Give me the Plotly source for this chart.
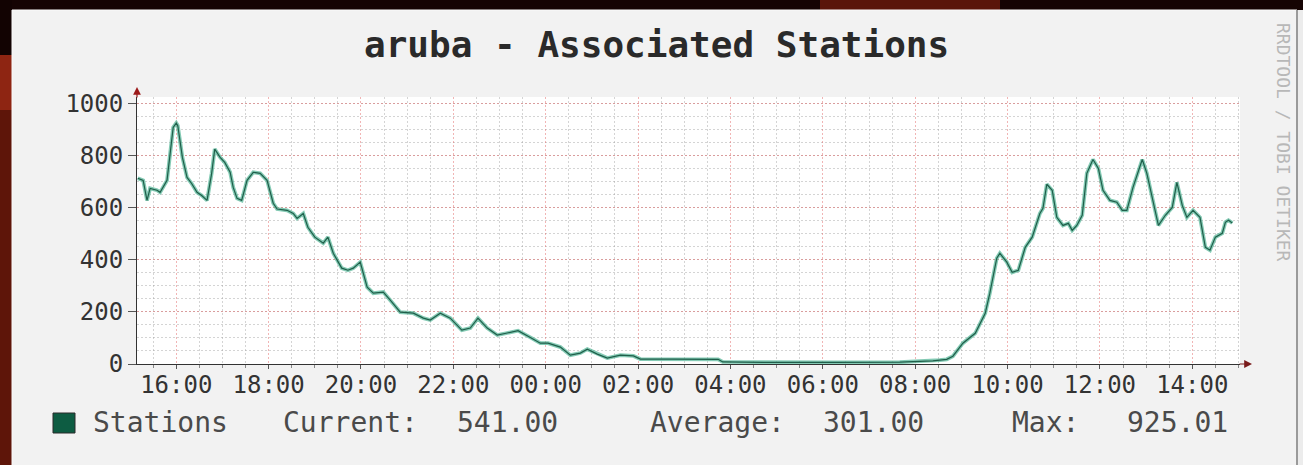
import plotly.graph_objects as go

# ---------------- data ----------------
day1_times = ["15:10", "15:17", "15:22", "15:26", "15:35", "15:39", "15:48", "15:52", "15:56", "16:00",
              "16:02", "16:08", "16:14", "16:20", "16:27", "16:33", "16:40", "16:46", "16:50", "16:57",
              "17:03", "17:10", "17:14", "17:19", "17:25", "17:32", "17:40", "17:49", "17:58", "18:06",
              "18:11", "18:24", "18:32", "18:37", "18:45", "18:51", "19:00", "19:11", "19:17", "19:24",
              "19:35", "19:43", "19:50", "19:59", "20:08", "20:16", "20:29", "20:38", "20:51", "21:08",
              "21:21", "21:30", "21:43", "21:56", "22:11", "22:22", "22:32", "22:44", "22:57", "23:10",
              "23:24", "23:40", "23:53"]
day1_values = [713, 705, 628, 674, 667, 659, 705, 808, 908, 925.01,
               915, 793, 716, 693, 659, 647, 628, 732, 825, 793,
               774, 736, 678, 636, 628, 705, 736, 732, 705, 617,
               595, 590, 578, 559, 578, 525, 487, 464, 487, 425,
               368, 360, 368, 391, 295, 272, 276, 245, 199, 195,
               176, 169, 195, 176, 130, 138, 176, 138, 111, 119,
               128, 102, 80]
day2_times = ["00:03", "00:19", "00:32", "00:45", "00:54", "01:07", "01:20", "01:37", "01:54", "02:03",
              "02:45", "03:30", "03:44", "03:50", "04:48", "06:13", "07:40", "08:23", "08:32", "08:41",
              "08:49", "08:58", "09:02", "09:18", "09:31", "09:37", "09:46", "09:50", "09:59", "10:06",
              "10:14", "10:23", "10:32", "10:42", "10:46", "10:51", "10:58", "11:04", "11:12", "11:19",
              "11:24", "11:30", "11:37", "11:43", "11:51", "11:58", "12:04", "12:13", "12:22", "12:29",
              "12:35", "12:43", "12:55", "13:01", "13:08", "13:16", "13:25", "13:34", "13:40", "13:47",
              "13:53", "14:01", "14:10", "14:17", "14:23", "14:30", "14:39", "14:43", "14:47", "14:52"]
day2_values = [80, 65, 34, 42, 57, 38, 23, 34, 31, 19,
               19, 18, 18, 8, 6, 6, 7, 12, 15, 18,
               30, 65, 80, 118, 195, 272, 406, 425, 391, 352,
               360, 448, 487, 578, 598, 690, 667, 563, 532, 540,
               513, 532, 571, 732, 785, 751, 667, 628, 621, 590,
               590, 678, 785, 732, 640, 532, 571, 601, 697, 609,
               563, 590, 563, 448, 437, 487, 502, 544, 552, 541]
day1_date = "2024-03-11"
day2_date = "2024-03-12"
x_range = ["2024-03-11 15:09", "2024-03-12 15:02"]
y_ticks = [0, 200, 400, 600, 800, 1000]
title_text = "aruba - Associated Stations"
series_name = "Stations"
stat_labels = ["Current:", "Average:", "Max:"]
stat_values = [541.00, 301.00, 925.01]
watermark = "RRDTOOL / TOBI OETIKER"

timestamps = [f"{day1_date} {t}" for t in day1_times] + [f"{day2_date} {t}" for t in day2_times]
stations = day1_values + day2_values

# ---------------- layout helpers ----------------
W, H = 1303, 465
L, R, T, B = 137, 63, 97, 101
PW, PH = W - L - R, H - T - B


def px(x):
    return (x - L) / PW


def py(y):
    return (H - B - y) / PH


MONO = "DejaVu Sans Mono"
TXT = "#4a4a4a"

fig = go.Figure()
fig.add_trace(go.Scatter(x=timestamps, y=stations, mode="lines", showlegend=False, hoverinfo="skip",
                         line=dict(color="rgba(80,180,148,0.7)", width=3.8)))
fig.add_trace(go.Scatter(x=timestamps, y=stations, mode="lines", name=series_name, showlegend=False,
                         line=dict(color="#1f5e4a", width=1.2)))

shapes = [
    dict(type="rect", xref="paper", yref="paper", x0=px(0), x1=px(12), y0=py(0), y1=py(55),
         fillcolor="#120302", line_width=0, layer="below"),
    dict(type="rect", xref="paper", yref="paper", x0=px(0), x1=px(12), y0=py(55), y1=py(110),
         fillcolor="#8e2512", line_width=0, layer="below"),
    dict(type="rect", xref="paper", yref="paper", x0=px(0), x1=px(12), y0=py(110), y1=py(465),
         fillcolor="#5e1509", line_width=0, layer="below"),
    dict(type="rect", xref="paper", yref="paper", x0=px(820), x1=px(1000), y0=py(0), y1=py(10),
         fillcolor="#5a1509", line_width=0, layer="below"),
    dict(type="rect", xref="paper", yref="paper", x0=px(1297), x1=px(1303), y0=py(10), y1=py(465),
         fillcolor="#ececec", line_width=0, layer="below"),
    dict(type="rect", xref="paper", yref="paper", x0=px(12), x1=px(1297), y0=py(10), y1=py(466),
         fillcolor="#f2f2f2", line=dict(color="#fafafa", width=1), layer="below"),
    dict(type="line", xref="paper", yref="paper", x0=px(1297), x1=px(1297), y0=py(10), y1=py(465),
         line=dict(color="#9a9a9a", width=2), layer="below"),
    dict(type="rect", xref="paper", yref="paper", x0=0, x1=1, y0=0, y1=1,
         fillcolor="#ffffff", line_width=0, layer="below"),
    dict(type="rect", xref="paper", yref="paper", x0=px(53), x1=px(75), y0=py(433), y1=py(413),
         fillcolor="#0d5c42", line=dict(color="#2a2a2a", width=1)),
]

annotations = [
    dict(text="", xref="paper", yref="paper", x=0, y=py(87), ax=0, ay=12, showarrow=True,
         arrowhead=2, arrowsize=1.3, arrowwidth=1.2, arrowcolor="#9c1a1a", standoff=0),
    dict(text="", xref="paper", yref="paper", x=px(1252), y=0, ax=-14, ay=0, showarrow=True,
         arrowhead=2, arrowsize=1.3, arrowwidth=1.2, arrowcolor="#7a1a1a", standoff=0),
    dict(text=title_text, xref="paper", yref="paper", x=px(656), y=py(45), xanchor="center",
         yanchor="middle", showarrow=False,
         font=dict(family=MONO, size=36, color="#2a2a2a", weight="bold")),
    dict(text=watermark, xref="paper", yref="paper", x=px(1284), y=py(142), textangle=90,
         xanchor="center", yanchor="middle", showarrow=False, font=dict(family=MONO, size=18, color="#b8b8b8")),
    dict(text=series_name, xref="paper", yref="paper", x=px(91), y=py(422), xanchor="left",
         yanchor="middle", showarrow=False, font=dict(family=MONO, size=28, color=TXT)),
]
label_x = [281, 648, 1010]
value_x = [455, 821, 1125]
for lab, val, lx, vx in zip(stat_labels, stat_values, label_x, value_x):
    annotations.append(dict(text=lab, xref="paper", yref="paper", x=px(lx), y=py(422), xanchor="left",
                            yanchor="middle", showarrow=False, font=dict(family=MONO, size=28, color=TXT)))
    annotations.append(dict(text=f"{val:.2f}", xref="paper", yref="paper", x=px(vx), y=py(422), xanchor="left",
                            yanchor="middle", showarrow=False, font=dict(family=MONO, size=28, color=TXT)))

fig.update_layout(
    width=W, height=H,
    margin=dict(l=L, r=R, t=T, b=B, pad=0),
    paper_bgcolor="#150403",
    plot_bgcolor="rgba(0,0,0,0)",
    shapes=shapes,
    annotations=annotations,
    showlegend=False,
    xaxis=dict(type="date", range=x_range, tickformat="%H:%M", dtick=7200000, tick0="2024-03-11 00:00",
               showgrid=True, gridcolor="rgba(225,90,90,0.45)", griddash="2px,2px", gridwidth=1,
               minor=dict(dtick=1800000, showgrid=True, gridcolor="rgba(160,160,160,0.45)", griddash="2px,2px",
                          ticks="outside", ticklen=3, tickcolor="#888"),
               showline=True, linecolor="#333333", linewidth=1, zeroline=False,
               ticks="outside", ticklen=4, tickcolor="#555", ticklabelstandoff=-5,
               tickfont=dict(family=MONO, size=24, color="#333333"), fixedrange=True, automargin=False),
    yaxis=dict(range=[0, 1025], tickvals=y_ticks, showgrid=True, gridcolor="rgba(225,90,90,0.45)",
               griddash="2px,2px", gridwidth=1,
               minor=dict(dtick=50, showgrid=True, gridcolor="rgba(160,160,160,0.45)", griddash="2px,2px"),
               showline=True, linecolor="#333333", linewidth=1, zeroline=False,
               ticks="outside", ticklen=8, tickcolor="#555", ticklabelstandoff=0,
               tickfont=dict(family=MONO, size=24, color="#333333"), fixedrange=True, automargin=False),
)

fig.write_html("out.html", config={"displayModeBar": False},
               post_script="document.body.style.margin='0';")
